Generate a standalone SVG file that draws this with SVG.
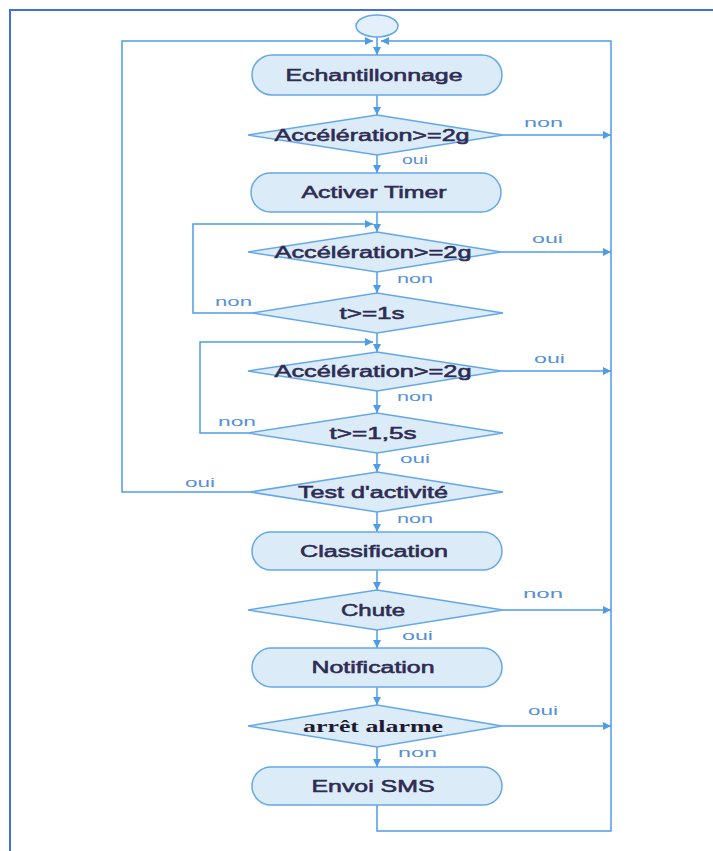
<svg xmlns="http://www.w3.org/2000/svg" width="713" height="851" viewBox="0 0 713 851">
  <style>
    .frame { fill: none; stroke: #4270d6; stroke-width: 2; }
    .node { fill: #dcebf8; stroke: #64a8ea; stroke-width: 1.5; }
    .start { fill: #e3f0fb; stroke: #64a8ea; stroke-width: 1.5; }
    .txt { font-family: "Liberation Sans", Arial, sans-serif; font-size: 16px; fill: #2e2c52; stroke: #2e2c52; stroke-width: 0.55; text-anchor: middle; }
    .serif { font-family: "Liberation Serif", "Times New Roman", serif; font-size: 17px; font-weight: bold; fill: #1e1a30; text-anchor: middle; }
    .lbl { font-family: "Liberation Sans", Arial, sans-serif; font-size: 13px; fill: #5590da; }
    .wire { fill: none; stroke: #4d9ce8; stroke-width: 1.5; }
  </style>
  <defs>
    <marker id="ah" viewBox="0 0 10 10" refX="10" refY="5" markerWidth="9" markerHeight="8" orient="auto" markerUnits="userSpaceOnUse">
      <path d="M0,0 L10,5 L0,10 z" fill="#4d9ce8"/>
    </marker>
  </defs>

  <rect width="713" height="851" fill="#ffffff"/>
  <!-- page frame: top and left edges only -->
  <path class="frame" d="M10,851 V10 H713"/>

  <!-- connectors -->
  <g id="connectors">
    <path class="wire" d="M377,37 V55" marker-end="url(#ah)"/>
    <path class="wire" d="M250,492 H122 V41 H373" marker-end="url(#ah)"/>
    <path class="wire" d="M377,805 V831 H611 V41 H381" marker-end="url(#ah)"/>

    <path class="wire" d="M377,95 V115" marker-end="url(#ah)"/>
    <path class="wire" d="M503,135 H611" marker-end="url(#ah)"/>
    <path class="wire" d="M377,155 V173" marker-end="url(#ah)"/>
    <path class="wire" d="M377,212 V232" marker-end="url(#ah)"/>
    <path class="wire" d="M501,252 H611" marker-end="url(#ah)"/>
    <path class="wire" d="M377,272 V293" marker-end="url(#ah)"/>
    <path class="wire" d="M252,313 H193 V224 H373" marker-end="url(#ah)"/>
    <path class="wire" d="M377,333 V352" marker-end="url(#ah)"/>
    <path class="wire" d="M501,371 H611" marker-end="url(#ah)"/>
    <path class="wire" d="M377,391 V413" marker-end="url(#ah)"/>
    <path class="wire" d="M248,433 H200 V342 H373" marker-end="url(#ah)"/>
    <path class="wire" d="M377,453 V472" marker-end="url(#ah)"/>
    <path class="wire" d="M377,512 V532" marker-end="url(#ah)"/>
    <path class="wire" d="M377,570 V590" marker-end="url(#ah)"/>
    <path class="wire" d="M503,610 H611" marker-end="url(#ah)"/>
    <path class="wire" d="M377,630 V648" marker-end="url(#ah)"/>
    <path class="wire" d="M377,687 V705" marker-end="url(#ah)"/>
    <path class="wire" d="M502,726 H611" marker-end="url(#ah)"/>
    <path class="wire" d="M377,747 V767" marker-end="url(#ah)"/>

    <!-- branch labels -->
    <text class="lbl" x="524" y="127" textLength="39" lengthAdjust="spacingAndGlyphs">non</text>
    <text class="lbl" x="402" y="164" textLength="26" lengthAdjust="spacingAndGlyphs">oui</text>
    <text class="lbl" x="532" y="243" textLength="31" lengthAdjust="spacingAndGlyphs">oui</text>
    <text class="lbl" x="397" y="283" textLength="36" lengthAdjust="spacingAndGlyphs">non</text>
    <text class="lbl" x="215" y="306" textLength="37" lengthAdjust="spacingAndGlyphs">non</text>
    <text class="lbl" x="534" y="363" textLength="31" lengthAdjust="spacingAndGlyphs">oui</text>
    <text class="lbl" x="397" y="401" textLength="36" lengthAdjust="spacingAndGlyphs">non</text>
    <text class="lbl" x="218" y="426" textLength="38" lengthAdjust="spacingAndGlyphs">non</text>
    <text class="lbl" x="400" y="463" textLength="30" lengthAdjust="spacingAndGlyphs">oui</text>
    <text class="lbl" x="185" y="487" textLength="30" lengthAdjust="spacingAndGlyphs">oui</text>
    <text class="lbl" x="397" y="523" textLength="36" lengthAdjust="spacingAndGlyphs">non</text>
    <text class="lbl" x="523" y="598" textLength="40" lengthAdjust="spacingAndGlyphs">non</text>
    <text class="lbl" x="402" y="640" textLength="31" lengthAdjust="spacingAndGlyphs">oui</text>
    <text class="lbl" x="528" y="715" textLength="30" lengthAdjust="spacingAndGlyphs">oui</text>
    <text class="lbl" x="398" y="757" textLength="39" lengthAdjust="spacingAndGlyphs">non</text>
  </g>

  <!-- nodes -->
  <g id="start">
    <ellipse class="start" cx="377" cy="26" rx="21" ry="11"/>
  </g>
  <g id="echantillonnage">
    <rect class="node" x="252" y="55" width="250" height="40" rx="20"/>
    <text class="txt" x="374" y="81" textLength="177" lengthAdjust="spacingAndGlyphs">Echantillonnage</text>
  </g>
  <g id="test-acc-1">
    <polygon class="node" points="377,115 503,135 377,155 248,135"/>
    <text class="txt" x="372" y="141" textLength="195" lengthAdjust="spacingAndGlyphs">Accélération&gt;=2g</text>
  </g>
  <g id="activer-timer">
    <rect class="node" x="251" y="173" width="250" height="39" rx="19.5"/>
    <text class="txt" x="374" y="198" textLength="145" lengthAdjust="spacingAndGlyphs">Activer Timer</text>
  </g>
  <g id="test-acc-2">
    <polygon class="node" points="377,232 501,252 377,272 248,252"/>
    <text class="txt" x="373" y="258" textLength="197" lengthAdjust="spacingAndGlyphs">Accélération&gt;=2g</text>
  </g>
  <g id="test-t1">
    <polygon class="node" points="377,293 503,313 377,333 252,313"/>
    <text class="txt" x="372" y="319" textLength="65" lengthAdjust="spacingAndGlyphs">t&gt;=1s</text>
  </g>
  <g id="test-acc-3">
    <polygon class="node" points="377,352 501,371 377,391 248,371"/>
    <text class="txt" x="373" y="377" textLength="197" lengthAdjust="spacingAndGlyphs">Accélération&gt;=2g</text>
  </g>
  <g id="test-t15">
    <polygon class="node" points="377,413 503,433 377,453 248,433"/>
    <text class="txt" x="373" y="439" textLength="87" lengthAdjust="spacingAndGlyphs">t&gt;=1,5s</text>
  </g>
  <g id="test-activite">
    <polygon class="node" points="377,472 503,492 377,512 250,492"/>
    <text class="txt" x="373" y="498" textLength="150" lengthAdjust="spacingAndGlyphs">Test d'activité</text>
  </g>
  <g id="classification">
    <rect class="node" x="252" y="532" width="250" height="38" rx="19"/>
    <text class="txt" x="374" y="557" textLength="148" lengthAdjust="spacingAndGlyphs">Classification</text>
  </g>
  <g id="chute">
    <polygon class="node" points="377,590 503,610 377,630 248,610"/>
    <text class="txt" x="373" y="616" textLength="64" lengthAdjust="spacingAndGlyphs">Chute</text>
  </g>
  <g id="notification">
    <rect class="node" x="252" y="648" width="250" height="39" rx="19.5"/>
    <text class="txt" x="373" y="673" textLength="123" lengthAdjust="spacingAndGlyphs">Notification</text>
  </g>
  <g id="arret-alarme">
    <polygon class="node" points="377,705 502,726 377,747 248,726"/>
    <text class="serif" x="373" y="732" textLength="140" lengthAdjust="spacingAndGlyphs">arrêt alarme</text>
  </g>
  <g id="envoi-sms">
    <rect class="node" x="252" y="767" width="250" height="38" rx="19"/>
    <text class="txt" x="373" y="792" textLength="123" lengthAdjust="spacingAndGlyphs">Envoi SMS</text>
  </g>
</svg>
